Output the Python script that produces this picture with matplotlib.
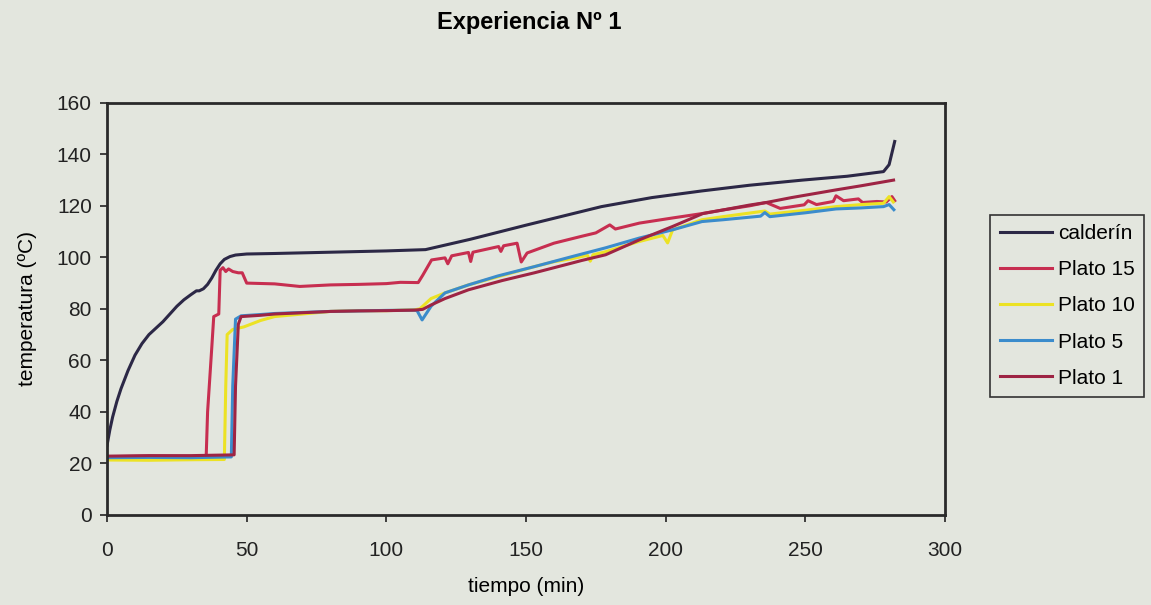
import matplotlib.pyplot as plt

# --- data (tiempo en min, temperatura en ºC) ---
calderin_t = [0, 1, 2, 3.5, 5, 7.5, 10, 12.5, 15, 17.5, 20, 22.5, 25, 27.5, 30, 32, 33, 34.5,
              36, 37.5, 39, 40.5, 42, 44, 46, 50, 60, 80, 100, 114,
              130, 150, 177, 195, 213, 230, 249, 265, 278, 280, 282]
calderin_T = [27, 33, 38, 44, 49, 56, 62, 66.5, 70, 72.5, 75, 78, 81, 83.5, 85.5, 87, 87,
              87.8, 89.5, 92, 95, 97.5, 99.2, 100.3, 100.9, 101.3, 101.5, 102, 102.5, 103,
              107, 112.5, 119.7, 123.2, 125.8, 128, 130, 131.5, 133.3, 136, 145]

plato15_t = [0, 15, 30, 35.5, 36, 37.5, 38.2, 40, 40.5, 41.5, 42.5, 43.5, 45, 47, 48.4, 50,
             60, 69, 80, 90, 100, 105, 111.4, 113, 116.2, 121, 122, 123.4, 129.4, 130.2, 131,
             140.2, 141, 142, 146.8, 148.3, 150.4, 160, 170, 175, 180, 182, 190.6, 202.5, 213,
             220.5, 230, 236, 241, 249.6, 251, 254, 260, 261, 263.7, 269, 270.5, 275.6, 279,
             281, 282]
plato15_T = [22.6, 22.8, 22.6, 22.8, 40, 65, 77, 78, 95, 96, 94.5, 95.5, 94.5, 94, 94, 90,
             89.7, 88.7, 89.3, 89.5, 89.8, 90.3, 90.2, 93, 99, 99.8, 97.5, 100.6, 101.9, 98.4,
             102, 104.2, 102.3, 104.5, 105.5, 98.2, 101.7, 105.5, 108.2, 109.5, 112.6, 111,
             113.3, 115.3, 117, 118.4, 120, 121.3, 119, 120.4, 122, 120.5, 121.7, 123.9, 122,
             122.7, 121.3, 121.7, 121.5, 123.6, 122]

plato10_t = [0, 15, 30, 42, 42.5, 43, 45, 49, 55, 60, 70, 80, 90, 100, 110, 112, 114, 116,
             121, 129.4, 140, 153, 160, 166.5, 172, 173, 174, 178.5, 190, 196.5, 199, 200.7,
             202.5, 213, 220.5, 235.5, 237.3, 250, 261, 270, 278, 280, 281.5]
plato10_T = [21.3, 21.2, 21.4, 21.5, 50, 70, 72, 73, 75.5, 77, 78, 79, 79.3, 79.3, 79.6, 80,
             82, 84, 86.2, 89.3, 92.5, 96.4, 98.3, 99.5, 100.8, 98.5, 101, 102.2, 106, 107.8,
             108.5, 105.6, 110.7, 114.6, 115.8, 118, 116.8, 118.3, 119.7, 120.5, 121, 123.6,
             121.5]

plato5_t = [0, 15, 30, 44.5, 45, 46, 48, 55, 60, 70, 80, 90, 100, 110, 111, 112.8, 116, 121,
            129.4, 140, 153, 166.5, 178.5, 190.6, 202.5, 213, 220.5, 234, 235.5, 237.3, 250,
            261, 270, 278, 280, 281.7]
plato5_T = [22.2, 22.3, 22.2, 22.5, 50, 76, 77.3, 77.8, 78.2, 78.6, 79, 79.2, 79.4, 79.5,
            79.3, 75.7, 81, 86.2, 89.3, 92.8, 96.4, 100.3, 103.7, 107.5, 110.7, 113.9, 114.6,
            116, 117.4, 115.8, 117.3, 118.8, 119.2, 119.7, 120.5, 118.5]

plato1_t = [0, 15, 30, 45.5, 46, 47, 48, 55, 60, 70, 80, 90, 100, 110, 113, 116, 121, 129.4,
            141.5, 153, 166.5, 170, 178.5, 190.6, 202.5, 213.3, 220.5, 230, 236, 245, 261,
            270, 281.6]
plato1_T = [22.8, 23, 23, 23.3, 50, 74, 77, 77.5, 78, 78.5, 79, 79.2, 79.3, 79.5, 79.8, 81.5,
            84, 87.4, 91, 94, 97.8, 98.8, 101, 106.8, 112, 117, 118.4, 120.3, 121.3, 123.2,
            126.2, 127.8, 130]

series = [
    ("calderín", calderin_t, calderin_T, "#2c2846"),
    ("Plato 15", plato15_t, plato15_T, "#c72e50"),
    ("Plato 10", plato10_t, plato10_T, "#ece224"),
    ("Plato 5", plato5_t, plato5_T, "#3b8ccc"),
    ("Plato 1", plato1_t, plato1_T, "#9e2444"),
]

bg = "#e3e6de"
plt.rcParams['font.family'] = ['Liberation Sans', 'DejaVu Sans']

fig = plt.figure(figsize=(11.51, 6.05), dpi=100, facecolor=bg)
ax = fig.add_axes([0.093, 0.149, 0.728, 0.681], facecolor=bg)

for name, t, T, c in series:
    ax.plot(t, T, color=c, lw=2.2, label=name, solid_joinstyle='round')

ax.set_xlim(0, 300)
ax.set_ylim(0, 160)
ax.set_xticks(range(0, 301, 50))
ax.set_yticks(range(0, 161, 20))
ax.tick_params(labelsize=15, length=5, width=1.2, colors='#222222', direction='out', pad=6)
ax.tick_params(axis='x', pad=14)
for s in ax.spines.values():
    s.set_linewidth(2)
    s.set_color('#2a2a2a')

ax.set_xlabel("tiempo (min)", fontsize=15, labelpad=12)
ax.set_ylabel("temperatura (ºC)", fontsize=15, labelpad=14)
fig.text(0.460, 0.962, "Experiencia Nº 1", fontsize=17, fontweight='bold', ha='center', va='center')

leg = ax.legend(loc='upper left', bbox_to_anchor=(1.054, 0.728), fontsize=15,
                frameon=True, fancybox=False, handlelength=2.5, handletextpad=0.3,
                labelspacing=0.82, borderpad=0.45, borderaxespad=0)
leg.get_frame().set_facecolor(bg)
leg.get_frame().set_edgecolor('#333333')
leg.get_frame().set_linewidth(1.2)
leg.get_frame().set_alpha(1)

fig.savefig("out.png", dpi=100, facecolor=bg)
